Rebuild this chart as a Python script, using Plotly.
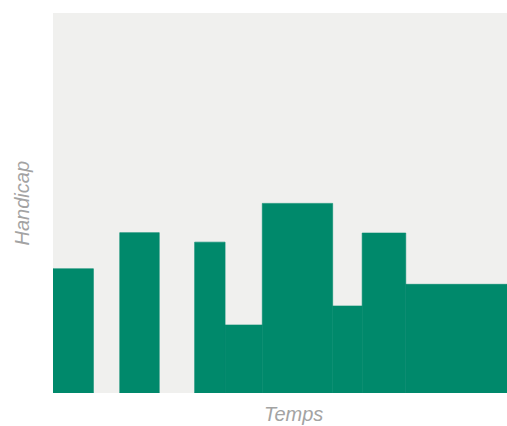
import plotly.graph_objects as go

# Time intervals (start, end) and handicap values
starts = [0.0, 14.7, 31.2, 37.9, 46.1, 61.6, 68.1, 77.7]
ends = [8.9, 23.4, 37.9, 46.1, 61.6, 68.1, 77.7, 100.0]
handicap = [32.7, 42.2, 39.7, 17.9, 49.9, 22.9, 42.1, 28.6]

centers = [(s + e) / 2 for s, e in zip(starts, ends)]
widths = [e - s for s, e in zip(starts, ends)]

fig = go.Figure(go.Bar(
    x=centers, y=handicap, width=widths,
    marker=dict(color="#00896b", line=dict(color="#00896b", width=0.6)),
    hoverinfo="skip",
))

fig.update_layout(
    width=507, height=426,
    margin=dict(l=53, r=0, t=13, b=33),
    paper_bgcolor="white",
    plot_bgcolor="#f0f0ee",
    showlegend=False,
    xaxis=dict(range=[0, 100], showticklabels=False, showgrid=False, zeroline=False, ticks=""),
    yaxis=dict(range=[0, 100], showticklabels=False, showgrid=False, zeroline=False, ticks=""),
    annotations=[
        dict(text="<i>Temps</i>", xref="paper", yref="paper", x=(293 - 53) / 454, y=-0.055,
             xanchor="center", yanchor="middle", showarrow=False,
             font=dict(family="Liberation Sans, Arial", size=20, color="#a3a3a3")),
        dict(text="<i>Handicap</i>", xref="paper", yref="paper", x=-(53 - 22) / 454,
             y=(393 - 203.5) / 380, xanchor="center", yanchor="middle", textangle=-90,
             showarrow=False,
             font=dict(family="Liberation Sans, Arial", size=20, color="#a3a3a3")),
    ],
)

fig.write_html("out.html", config={"displayModeBar": False},
               post_script="document.body.style.margin='0';document.body.style.overflow='hidden';")
